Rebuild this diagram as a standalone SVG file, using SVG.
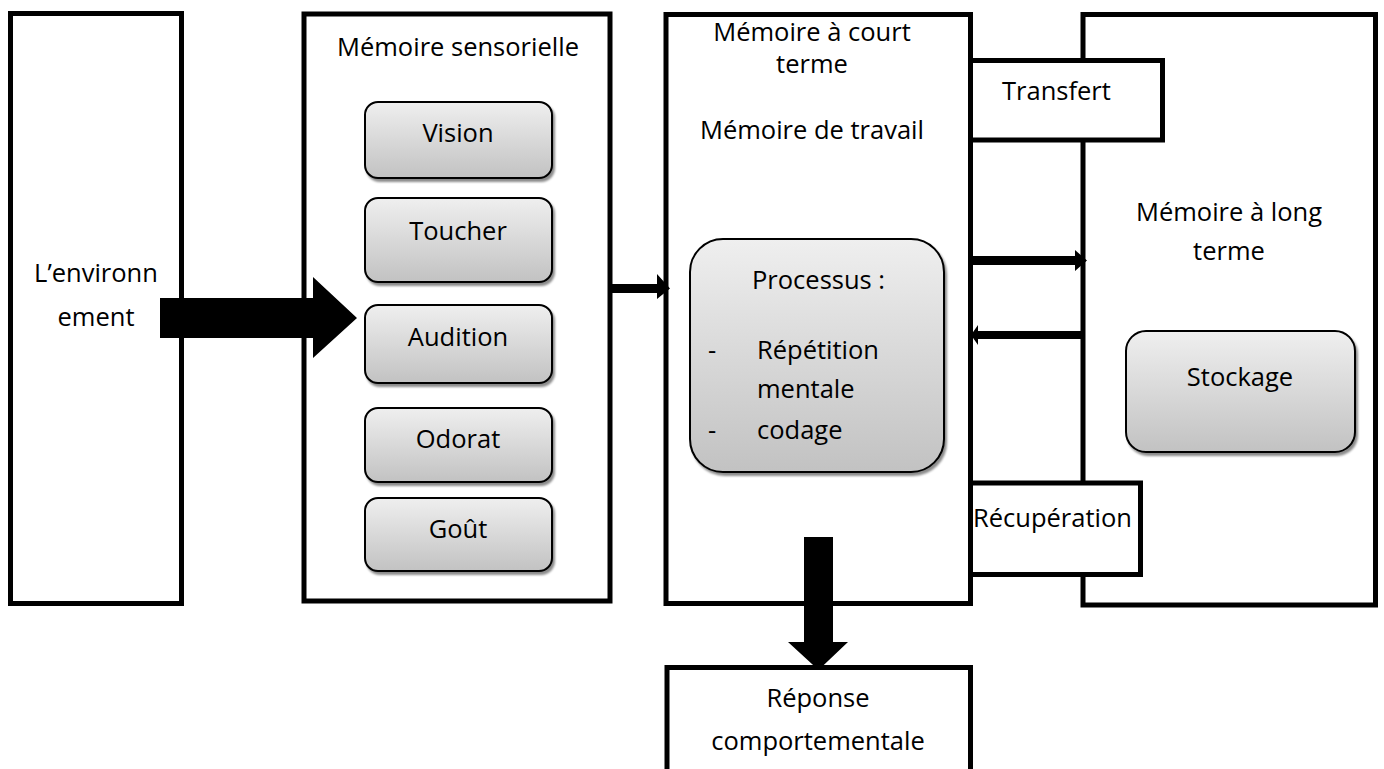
<svg xmlns="http://www.w3.org/2000/svg" width="1384" height="769" viewBox="0 0 1384 769">
<defs>
<linearGradient id="g" x1="0" y1="0" x2="0" y2="1">
<stop offset="0" stop-color="#efefef"/>
<stop offset="1" stop-color="#c2c2c2"/>
</linearGradient>
<filter id="sh" x="-10%" y="-10%" width="130%" height="130%">
<feDropShadow dx="2" dy="3" stdDeviation="1.2" flood-color="#000" flood-opacity="0.45"/>
</filter>
<style>
.big{fill:#fff;stroke:#000;stroke-width:5}
.sm{fill:url(#g);stroke:#000;stroke-width:2;filter:url(#sh)}
text{font-family:"Open Sans","Liberation Sans",sans-serif;font-size:25.5px;fill:#000}
.c{text-anchor:middle}
.arr{fill:#000}
</style>
</defs>
<rect width="1384" height="769" fill="#fff"/>
<g id="env">
<rect class="big" x="10.5" y="13.5" width="171" height="590"/>
<text class="c" x="96" y="282">L’environn</text>
<text class="c" x="96" y="326">ement</text>
</g>
<g id="sensorielle">
<rect class="big" x="304" y="14" width="306" height="587"/>
<text class="c" x="458" y="56">Mémoire sensorielle</text>
</g>
<g id="vision"><rect class="sm" x="365" y="102" width="187" height="76" rx="13"/><text class="c" x="458" y="142">Vision</text></g>
<g id="toucher"><rect class="sm" x="365" y="198" width="187" height="84" rx="13"/><text class="c" x="458" y="240">Toucher</text></g>
<g id="audition"><rect class="sm" x="365" y="305" width="187" height="78" rx="13"/><text class="c" x="458" y="346">Audition</text></g>
<g id="odorat"><rect class="sm" x="365" y="408" width="187" height="74" rx="13"/><text class="c" x="458" y="448">Odorat</text></g>
<g id="gout"><rect class="sm" x="365" y="498" width="187" height="73" rx="13"/><text class="c" x="458" y="538">Goût</text></g>
<g id="long-terme">
<rect class="big" x="1083" y="14.5" width="292.5" height="590.5"/>
<text class="c" x="1229" y="221">Mémoire à long</text>
<text class="c" x="1229" y="260">terme</text>
</g>
<g id="stockage"><rect class="sm" x="1126" y="331" width="229" height="121" rx="20"/><text class="c" x="1240" y="386">Stockage</text></g>
<g id="court-terme">
<rect class="big" x="666" y="14.5" width="304.5" height="589"/>
<text class="c" x="812" y="41">Mémoire à court</text>
<text class="c" x="812" y="73">terme</text>
<text class="c" x="812" y="139">Mémoire de travail</text>
</g>
<g id="processus">
<rect class="sm" x="690" y="239" width="254" height="233" rx="33"/>
<text x="752" y="289">Processus :</text>
<text x="708" y="359">-</text>
<text x="757" y="359">Répétition</text>
<text x="757" y="398">mentale</text>
<text x="708" y="439">-</text>
<text x="757" y="439">codage</text>
</g>
<g id="transfert">
<rect class="big" x="970.5" y="60.5" width="192" height="79.5"/>
<text x="1002" y="100">Transfert</text>
</g>
<g id="recuperation">
<rect class="big" x="970.5" y="483" width="170" height="91.5"/>
<text x="973" y="527">Récupération</text>
</g>
<g id="reponse">
<rect class="big" x="667" y="667.5" width="303.5" height="110"/>
<text class="c" x="818" y="707">Réponse</text>
<text class="c" x="818" y="750">comportementale</text>
</g>
<g id="connectors">
<polygon class="arr" points="160,298 313,298 313,277 357,318 313,358 313,338 160,338"/>
<polygon class="arr" points="612,284 657,284 657,274 670,288.5 657,299 657,293 612,293"/>
<polygon class="arr" points="973,256 1075,256 1075,250 1087,260.5 1075,271 1075,265 973,265"/>
<polygon class="arr" points="1083,331 978,331 978,325 971,335 978,345 978,339 1083,339"/>
<polygon class="arr" points="804,537 833,537 833,642 848,642 818.5,670 788,642 804,642"/>
</g>
</svg>
